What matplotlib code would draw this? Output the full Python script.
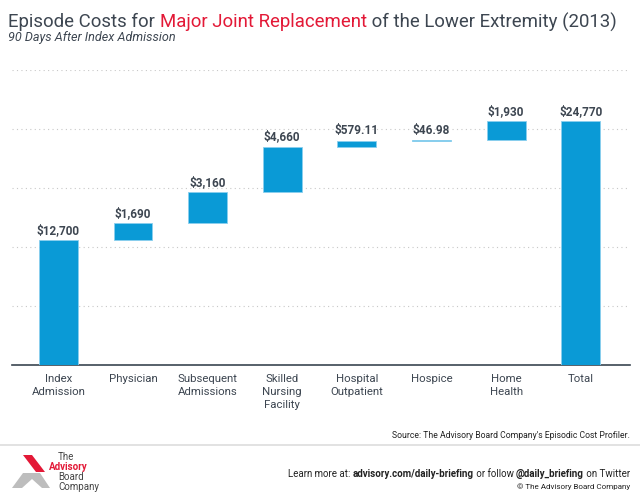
import matplotlib.pyplot as plt
import numpy as np
from matplotlib.patches import Polygon

plt.rcParams['font.family'] = ['Roboto', 'DejaVu Sans']

# data
categories = ['Index\nAdmission', 'Physician', 'Subsequent\nAdmissions', 'Skilled\nNursing\nFacility',
              'Hospital\nOutpatient', 'Hospice', 'Home\nHealth', 'Total']
costs = [12700, 1690, 3160, 4660, 579.11, 46.98, 1930]
total = 24770
value_labels = ['$12,700', '$1,690', '$3,160', '$4,660', '$579.11', '$46.98', '$1,930', '$24,770']

blue = '#0A9AD6'
edge = '#8ACFEE'
dark = '#3D4651'
red = '#E31937'

fig = plt.figure(figsize=(6.4, 5), dpi=100)
ax = fig.add_axes([12/640, 1-365/500, 618/640, 295/500])

# waterfall bottoms
bottoms = list(np.concatenate([[0], np.cumsum(costs)[:-1]]))
heights = costs + [total]
bottoms = bottoms + [0]
x = np.arange(len(categories))

ax.bar(x, heights, bottom=bottoms, width=0.52, color=blue, edgecolor=edge, linewidth=0.6, zorder=3)

for xi, b, h, lab in zip(x, bottoms, heights, value_labels):
    ax.annotate(lab, (xi, b+h), xytext=(0, 2.5), textcoords='offset points',
                ha='center', va='bottom', fontsize=8.5, fontweight='bold', color=dark)

ax.set_xlim(-0.62, 7.66)
ax.set_ylim(0, 30000)
ax.set_yticks(np.arange(6000, 30001, 6000))
ax.yaxis.grid(True, linestyle=(0, (1, 3)), color='#C8C8C8', linewidth=0.8)
ax.set_axisbelow(True)
ax.tick_params(axis='y', left=False, labelleft=False)
ax.tick_params(axis='x', bottom=False, pad=3)
ax.set_xticks(x)
ax.set_xticklabels(categories, fontsize=8.2, color=dark, linespacing=1.35)
for s in ['top', 'right', 'left']:
    ax.spines[s].set_visible(False)
ax.spines['bottom'].set_color('#3A4550')
ax.spines['bottom'].set_linewidth(1.2)

# title
renderer = fig.canvas.get_renderer()
title_parts = [('Episode Costs for ', dark), ('Major Joint Replacement', red),
               (' of the Lower Extremity (2013)', dark)]
xpos = 8/640
for txt, col in title_parts:
    tt = fig.text(xpos, 1-22/500, txt, fontsize=13.45, color=col, va='center')
    bb = tt.get_window_extent(renderer=renderer)
    xpos += bb.width/640
fig.text(8/640, 1-38/500, '90 Days After Index Admission', fontsize=9.1, style='italic',
         color=dark, va='center')

fig.text(630/640, 1-435/500, "Source: The Advisory Board Company's Episodic Cost Profiler.",
         fontsize=6.2, color='#222222', ha='right', va='center')
fig.add_artist(plt.Line2D([0, 1], [1-445/500, 1-445/500], color='#DDDDDD', linewidth=1.2))

# footer
parts = [('Learn more at: ', 'normal'), ('advisory.com/daily-briefing', 'bold'),
         (' or follow ', 'normal'), ('@daily_briefing', 'bold'), (' on Twitter', 'normal')]
pieces = []
for txt, w in parts:
    pieces.append(fig.text(0, 1-474/500, txt, fontsize=7, fontweight=w, color='#222222', va='center'))
widths = [p.get_window_extent(renderer=renderer).width for p in pieces]
xpos = 630 - sum(widths)
for p, w in zip(pieces, widths):
    p.set_x(xpos/640)
    xpos += w
fig.text(630/640, 1-487/500, '\u00a9 The Advisory Board Company', fontsize=5.8, color='#222222',
         ha='right', va='center')

# logo
def px(pts):
    return [(a/640, 1-b/500) for a, b in pts]

fig.add_artist(Polygon(px([(23, 455), (32, 455), (45, 472), (36, 472)]), closed=True,
                       facecolor=red, edgecolor='none', transform=fig.transFigure))
fig.add_artist(Polygon(px([(23, 473), (40, 473), (50, 488), (42, 488), (32, 479), (22, 488), (12, 488)]),
                       closed=True, facecolor='#BDBDBD', edgecolor='none', transform=fig.transFigure))
fig.text(58/640, 1-457/500, 'The', fontsize=7, color='#444444', va='center')
fig.text(49/640, 1-467/500, 'Advisory', fontsize=7, color=red, fontweight='bold', va='center')
fig.text(58/640, 1-477/500, 'Board', fontsize=7, color='#444444', va='center')
fig.text(58/640, 1-487/500, 'Company', fontsize=7, color='#444444', va='center')

fig.savefig('out.png', dpi=100)
